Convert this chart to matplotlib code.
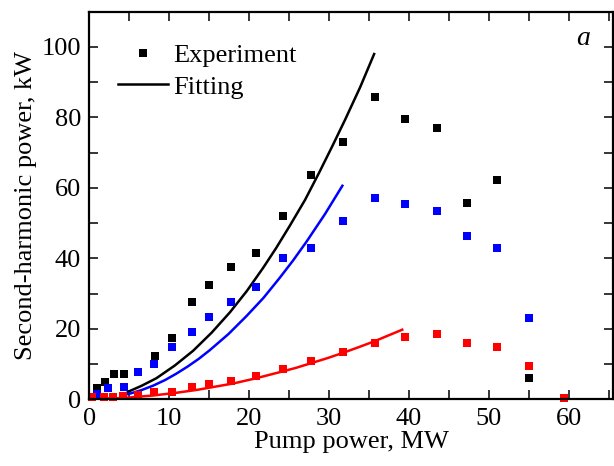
import matplotlib
matplotlib.use("Agg")
import matplotlib.pyplot as plt
from matplotlib.lines import Line2D
from matplotlib.ticker import MultipleLocator

plt.rcParams['font.family'] = ['Liberation Serif', 'DejaVu Serif']

# experimental points (pump power MW, second-harmonic power kW)
black_x = [1.0, 2.0, 3.1, 4.4, 8.2, 10.3, 12.8, 15.0, 17.7, 20.8, 24.2, 27.8, 31.75, 35.7, 39.5, 43.55, 47.25, 51.05, 55.0]
black_y = [3.2, 4.8, 7.2, 7.2, 12.3, 17.5, 27.6, 32.5, 37.6, 41.5, 51.9, 63.7, 73.0, 85.8, 79.5, 76.9, 55.7, 62.2, 6.0]

blue_x = [1.0, 2.4, 4.4, 6.1, 8.1, 10.3, 12.8, 15.0, 17.7, 20.8, 24.2, 27.8, 31.75, 35.7, 39.5, 43.55, 47.25, 51.05, 55.0]
blue_y = [1.5, 3.1, 3.4, 7.8, 10.1, 14.8, 19.2, 23.5, 27.6, 31.8, 40.1, 42.9, 50.7, 57.0, 55.5, 53.5, 46.4, 43.0, 23.0]

red_x = [0.3, 1.8, 3.0, 4.25, 6.1, 8.1, 10.3, 12.8, 15.0, 17.7, 20.8, 24.2, 27.8, 31.75, 35.7, 39.5, 43.55, 47.25, 51.05, 55.0, 59.4]
red_y = [0.7, 0.8, 0.8, 1.0, 1.2, 2.0, 2.2, 3.4, 4.4, 5.3, 6.7, 8.6, 10.9, 13.4, 16.1, 17.8, 18.6, 16.1, 14.8, 9.5, 0.3]

# fitting curves
fit_black_x = [4.7, 6.5, 8.4, 10.7, 13.0, 15.3, 17.6, 19.7, 21.75, 23.4, 25.1, 27.0, 28.8, 30.4, 32.0, 33.9, 35.7]
fit_black_y = [2.0, 3.8, 6.0, 9.6, 13.8, 18.9, 24.7, 30.7, 37.3, 43.0, 49.3, 56.6, 64.5, 71.8, 79.3, 88.6, 98.3]

fit_blue_x = [3.8, 5.2, 6.5, 8.0, 9.5, 10.9, 12.3, 13.7, 15.1, 17.4, 19.7, 21.8, 23.8, 25.5, 27.2, 29.5, 31.75]
fit_blue_y = [1.0, 1.7, 2.6, 3.9, 5.5, 7.3, 9.3, 11.5, 14.0, 18.5, 23.7, 28.8, 34.4, 39.4, 44.8, 52.6, 60.9]

fit_red_x = [0.0, 4.0, 8.0, 11.0, 13.5, 15.5, 18.0, 20.9, 23.8, 25.8, 27.8, 29.8, 31.75, 33.7, 35.7, 37.6, 39.3]
fit_red_y = [0.2, 0.35, 1.1, 1.9, 2.7, 3.5, 4.5, 6.0, 7.7, 8.9, 10.3, 11.7, 13.2, 14.8, 16.5, 18.3, 19.9]

fig = plt.figure(figsize=(6.14, 4.66), dpi=100)
ax = fig.add_axes([0.1454, 0.143, 0.8526, 0.832])

ax.plot(fit_black_x, fit_black_y, color='black', lw=1.8, solid_capstyle='butt', solid_joinstyle='round')
ax.plot(fit_blue_x, fit_blue_y, color='#0000ff', lw=1.8, solid_capstyle='butt', solid_joinstyle='round')
ax.plot(fit_red_x, fit_red_y, color='#ff0000', lw=1.8, solid_capstyle='butt', solid_joinstyle='round')

ms = 6.3
ax.plot(black_x, black_y, 's', color='black', ms=ms, mew=0, clip_on=False)
ax.plot(blue_x, blue_y, 's', color='#0000ff', ms=ms, mew=0, clip_on=False)
ax.plot(red_x, red_y, 's', color='#ff0000', ms=ms, mew=0, clip_on=False)

ax.set_xlim(0, 65.5)
ax.set_ylim(0, 110)
ax.xaxis.set_major_locator(MultipleLocator(10))
ax.xaxis.set_minor_locator(MultipleLocator(5))
ax.yaxis.set_major_locator(MultipleLocator(20))
ax.yaxis.set_minor_locator(MultipleLocator(10))
ax.tick_params(which='both', direction='in', top=True, right=True,
               length=6.5, width=1.1, labelsize=19, pad=6)
for s in ax.spines.values():
    s.set_linewidth(1.6)

ax.set_xlabel('Pump power, MW', fontsize=19, labelpad=1)
ax.set_ylabel('Second-harmonic power, kW', fontsize=19, labelpad=3)

ax.text(0.943, 0.93, 'a', transform=ax.transAxes, fontsize=20,
        style='italic', ha='center', va='center')

handles = [Line2D([], [], ls='none', marker='s', color='black', ms=ms, mew=0),
           Line2D([], [], color='black', lw=1.8)]
ax.legend(handles, ['Experiment', 'Fitting'], loc='upper left',
          bbox_to_anchor=(0.02, 0.965), frameon=False, fontsize=19,
          handlelength=1.9, handletextpad=0.2, labelspacing=0.3,
          borderpad=0.2)

fig.savefig('out.png', dpi=100)
